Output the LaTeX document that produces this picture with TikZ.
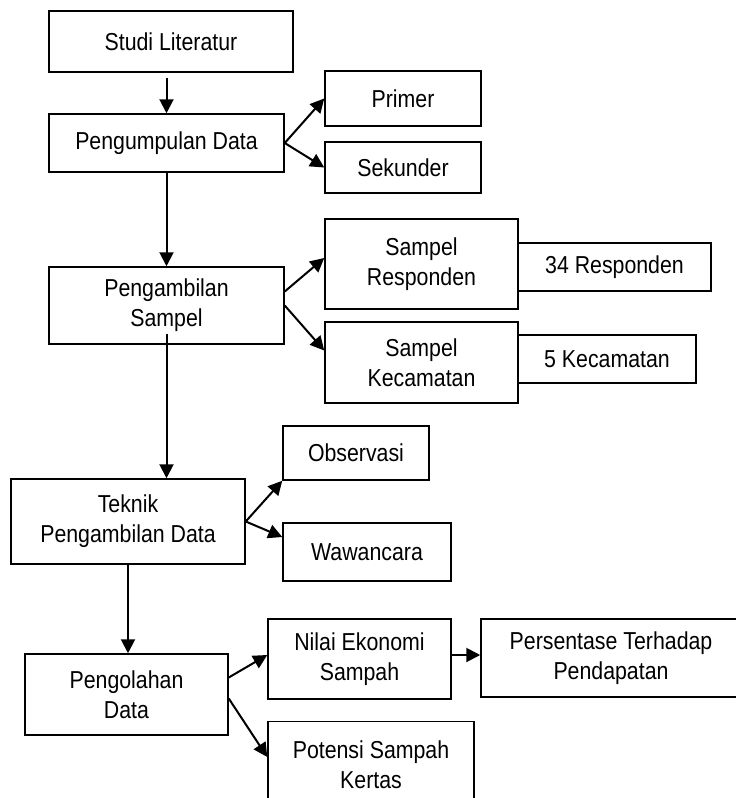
\documentclass[tikz,border=0pt]{standalone}
\usepackage{fontspec}
\setmainfont{Liberation Sans}[FakeStretch=0.87]
\usetikzlibrary{arrows.meta}
\begin{document}
\begin{tikzpicture}[x=1pt,y=-1pt,
    box/.style={rectangle,draw,line width=1.5pt,align=center,inner sep=2pt,font=\fontsize{24.5}{30}\selectfont},
    arr/.style={line width=2pt,-{Triangle[length=14pt,width=14pt]}}]
            \useasboundingbox (0,0) rectangle (736,798);

            \node[box, minimum width=244pt, minimum height=61pt] at (171, 41.5) (studi) {Studi Literatur};
            \node[box, minimum width=235pt, minimum height=58pt] at (166.5, 143) (kumpul) {Pengumpulan Data};
            \node[box, minimum width=156pt, minimum height=55pt] at (403, 98.5) (primer) {Primer};
            \node[box, minimum width=156pt, minimum height=51pt] at (403, 167.5) (sekunder) {Sekunder};

            \node[box, minimum width=235pt, minimum height=77pt] at (166.5, 305.5) (sampel) {Pengambilan\\Sampel};
            \node[box, minimum width=193pt, minimum height=90pt] at (421.5, 264) (resp) {Sampel\\Responden};
            \node[box, minimum width=193pt, minimum height=48pt] at (614.5, 267) (resp34) {34 Responden};
            \node[box, minimum width=193pt, minimum height=81pt] at (421.5, 362.5) (kec) {Sampel\\Kecamatan};
            \node[box, minimum width=178pt, minimum height=48pt] at (607, 359) (kec5) {5 Kecamatan};

            \node[box, minimum width=234pt, minimum height=85pt] at (128, 521.5) (teknik) {Teknik\\Pengambilan Data};
            \node[box, minimum width=146pt, minimum height=54pt] at (356, 453) (obs) {Observasi};
            \node[box, minimum width=168pt, minimum height=58pt] at (367, 552) (wawan) {Wawancara};

            \node[box, minimum width=203pt, minimum height=81pt] at (126.5, 694.5) (olah) {Pengolahan\\Data};
            \node[box, minimum width=183pt, minimum height=80pt] at (359.5, 659) (nilai) {Nilai Ekonomi\\Sampah};
            \node[box, minimum width=260pt, minimum height=78pt] at (611, 658) (persen) {Persentase Terhadap\\Pendapatan};
            \node[box, minimum width=206pt, minimum height=87pt] at (371, 765) (potensi) {Potensi Sampah\\Kertas};

            \draw[arr] ([yshift=-5pt]studi.south -| kumpul.north) -- (kumpul.north);
            \draw[arr] (kumpul.east) -- (primer.west);
            \draw[arr] (kumpul.east) -- (sekunder.west);
            \draw[arr] (kumpul.south) -- (sampel.north);

            \draw[arr] ([yshift=14pt]sampel.east) -- ([yshift=6pt]resp.west);
            \draw[arr] (sampel.east) -- ([yshift=12pt]kec.west);
            \draw[arr] ([yshift=11pt]sampel.south) -- (sampel.south |- teknik.north);

            \draw[arr] (teknik.east) -- (obs.south west);
            \draw[arr] (teknik.east) -- ([yshift=15pt]wawan.west);
            \draw[arr] (teknik.south) -- (teknik.south |- olah.north);

            \draw[arr] ([yshift=17pt]olah.east) -- ([yshift=4pt]nilai.west);
            \draw[arr] ([yshift=-4pt]olah.east) -- ([yshift=8pt]potensi.west);
            \draw[arr] ([yshift=4pt]nilai.east) -- ([yshift=4pt]nilai.east -| persen.west);
        \end{tikzpicture}
\end{document}
